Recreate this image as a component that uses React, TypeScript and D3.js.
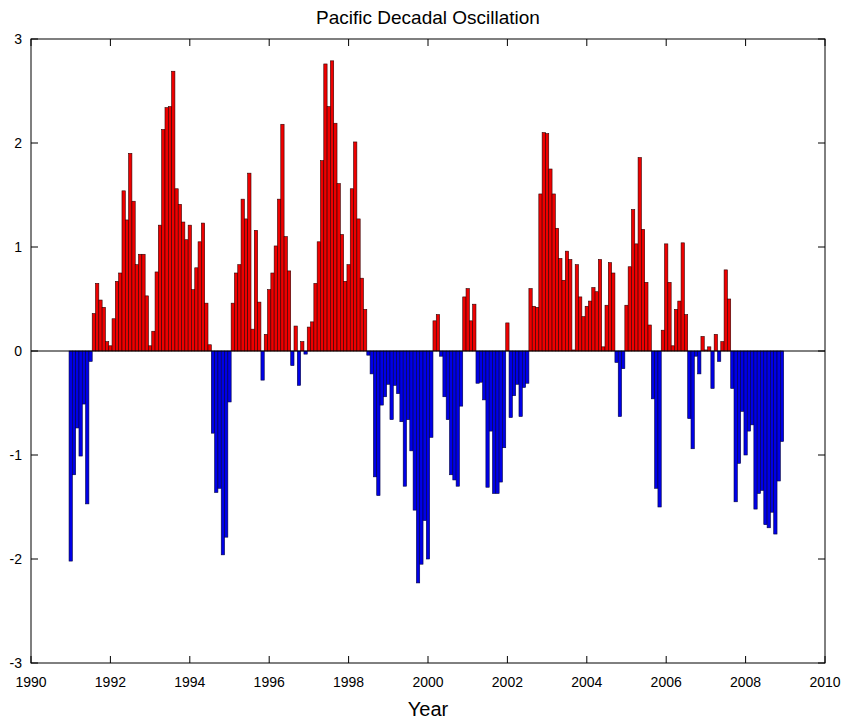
import React from "react";
import * as d3 from "d3";

const title = "Pacific Decadal Oscillation";
const xLabel = "Year";
const startYear = 1991;
const xTicks = [1990, 1992, 1994, 1996, 1998, 2000, 2002, 2004, 2006, 2008, 2010];
const yTicks = [-3, -2, -1, 0, 1, 2, 3];

const pdo1991 = [-2.02, -1.19, -0.74, -1.01, -0.51, -1.47, -0.1, 0.36, 0.65, 0.49, 0.42, 0.09];
const pdo1992 = [0.05, 0.31, 0.67, 0.75, 1.54, 1.26, 1.9, 1.44, 0.83, 0.93, 0.93, 0.53];
const pdo1993 = [0.05, 0.19, 0.76, 1.21, 2.13, 2.34, 2.35, 2.69, 1.56, 1.41, 1.24, 1.07];
const pdo1994 = [1.21, 0.59, 0.8, 1.05, 1.23, 0.46, 0.06, -0.79, -1.36, -1.32, -1.96, -1.79];
const pdo1995 = [-0.49, 0.46, 0.75, 0.83, 1.46, 1.27, 1.71, 0.21, 1.16, 0.47, -0.28, 0.16];
const pdo1996 = [0.59, 0.75, 1.01, 1.46, 2.18, 1.1, 0.77, -0.14, 0.24, -0.33, 0.09, -0.03];
const pdo1997 = [0.23, 0.28, 0.65, 1.05, 1.83, 2.76, 2.35, 2.79, 2.19, 1.61, 1.12, 0.67];
const pdo1998 = [0.83, 1.56, 2.01, 1.27, 0.7, 0.4, -0.04, -0.22, -1.21, -1.39, -0.52, -0.44];
const pdo1999 = [-0.32, -0.66, -0.33, -0.41, -0.68, -1.3, -0.66, -0.96, -1.53, -2.23, -2.05, -1.63];
const pdo2000 = [-2.0, -0.83, 0.29, 0.35, -0.05, -0.44, -0.66, -1.19, -1.24, -1.3, -0.53, 0.52];
const pdo2001 = [0.6, 0.29, 0.45, -0.31, -0.3, -0.47, -1.31, -0.77, -1.37, -1.37, -1.26, -0.93];
const pdo2002 = [0.27, -0.64, -0.43, -0.32, -0.63, -0.35, -0.31, 0.6, 0.43, 0.42, 1.51, 2.1];
const pdo2003 = [2.09, 1.75, 1.51, 1.18, 0.89, 0.68, 0.96, 0.88, 0.01, 0.83, 0.52, 0.33];
const pdo2004 = [0.43, 0.48, 0.61, 0.57, 0.88, 0.04, 0.44, 0.85, 0.75, -0.11, -0.63, -0.17];
const pdo2005 = [0.44, 0.81, 1.36, 1.03, 1.86, 1.17, 0.66, 0.25, -0.46, -1.32, -1.5, 0.2];
const pdo2006 = [1.03, 0.66, 0.05, 0.4, 0.48, 1.04, 0.35, -0.65, -0.94, -0.05, -0.22, 0.14];
const pdo2007 = [0.01, 0.04, -0.36, 0.16, -0.1, 0.09, 0.78, 0.5, -0.36, -1.45, -1.08, -0.58];
const pdo2008 = [-1.0, -0.77, -0.71, -1.52, -1.37, -1.34, -1.67, -1.7, -1.55, -1.76, -1.25, -0.87];

const years = [
  pdo1991, pdo1992, pdo1993, pdo1994, pdo1995, pdo1996, pdo1997, pdo1998, pdo1999,
  pdo2000, pdo2001, pdo2002, pdo2003, pdo2004, pdo2005, pdo2006, pdo2007, pdo2008,
];

export default function App() {
  const W = 845, H = 723;
  const left = 31, right = 825, top = 39, bottom = 663;
  const x = d3.scaleLinear().domain([1990, 2010]).range([left, right]);
  const y = d3.scaleLinear().domain([-3, 3]).range([bottom, top]);
  const data = years.flatMap((vals, yi) =>
    vals.map((v, m) => ({ t: startYear + yi + m / 12, v }))
  );
  const bw = x(startYear + 1 / 12) - x(startYear);
  const font = "'Liberation Sans', Arial, Helvetica, sans-serif";
  const tick = 7;
  return (
    <svg width={W} height={H} style={{ position: "absolute", left: 0, top: 0, background: "#fff" }}>
      <rect x={0} y={0} width={W} height={H} fill="#fff" />
      {data.map((d, i) => {
        const y0 = y(0), y1 = y(d.v);
        const pos = d.v >= 0;
        return (
          <rect
            key={i}
            x={x(d.t) - bw / 2}
            y={Math.min(y0, y1)}
            width={bw}
            height={Math.abs(y1 - y0)}
            fill={pos ? "#ee0000" : "#0000e6"}
            stroke={pos ? "#300000" : "#000040"}
            strokeWidth={0.6}
          />
        );
      })}
      <line x1={left} x2={right} y1={y(0)} y2={y(0)} stroke="#000" strokeWidth={1} />
      <rect x={left} y={top} width={right - left} height={bottom - top} fill="none" stroke="#000" strokeWidth={1} />
      {xTicks.map((t) => (
        <g key={"x" + t}>
          <line x1={x(t)} x2={x(t)} y1={bottom} y2={bottom - tick} stroke="#000" />
          <line x1={x(t)} x2={x(t)} y1={top} y2={top + tick} stroke="#000" />
          <text x={x(t)} y={bottom + 24} textAnchor="middle" fontFamily={font} fontSize={14}>
            {t}
          </text>
        </g>
      ))}
      {yTicks.map((t) => (
        <g key={"y" + t}>
          <line x1={left} x2={left + tick} y1={y(t)} y2={y(t)} stroke="#000" />
          <line x1={right} x2={right - tick} y1={y(t)} y2={y(t)} stroke="#000" />
          <text x={left - 9} y={y(t) + 5} textAnchor="end" fontFamily={font} fontSize={14}>
            {t}
          </text>
        </g>
      ))}
      <text x={(left + right) / 2} y={24} textAnchor="middle" fontFamily={font} fontSize={19}>
        {title}
      </text>
      <text x={(left + right) / 2} y={716} textAnchor="middle" fontFamily={font} fontSize={20}>
        {xLabel}
      </text>
    </svg>
  );
}
